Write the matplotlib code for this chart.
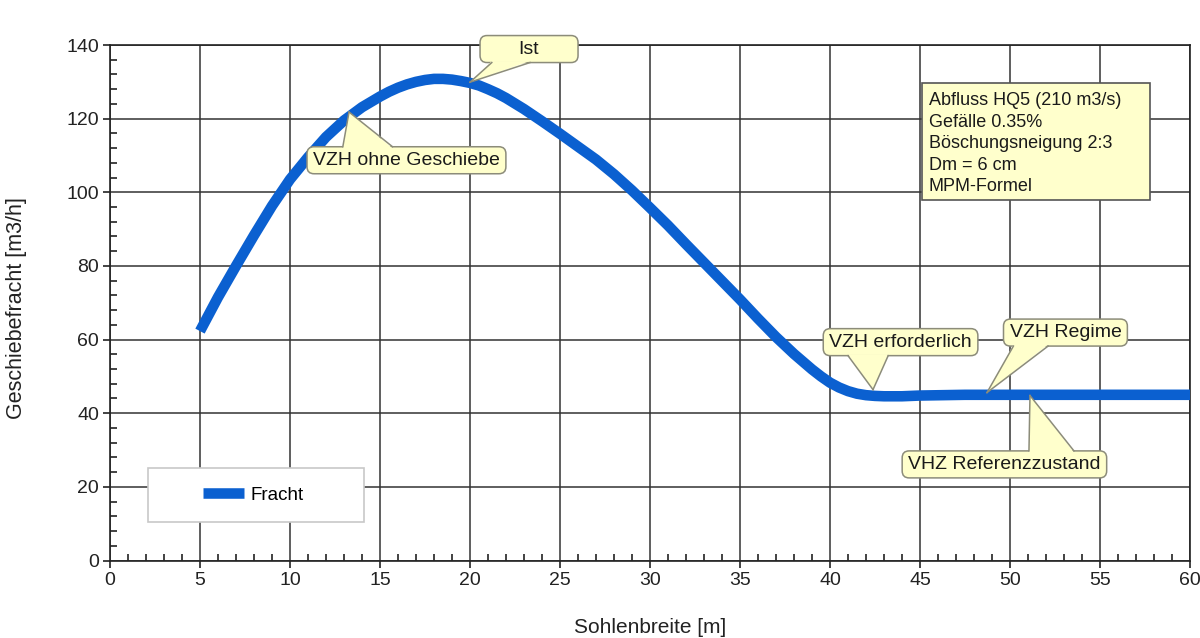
import matplotlib
matplotlib.use("Agg")
import matplotlib.pyplot as plt
from matplotlib.patches import Rectangle, FancyBboxPatch, Polygon
from matplotlib.lines import Line2D
from matplotlib.transforms import IdentityTransform
from matplotlib.ticker import MultipleLocator

plt.rcParams['font.family'] = ['Liberation Sans', 'DejaVu Sans']

# Sohlenbreite [m] and Geschiebefracht [m3/h]
breite = [5, 6, 7, 8, 9, 10, 11, 12, 13, 14, 15, 15.5, 16, 16.5, 17, 17.5, 18, 18.5, 19, 19.5, 20,
          20.5, 21, 21.5, 22, 23, 24, 25, 26, 27, 28, 29, 30, 31, 32, 33, 34, 35,
          36, 37, 38, 39, 39.5, 40, 40.5, 41, 41.5, 42, 42.5, 43, 44, 45, 47.5, 50, 52.5, 55, 57.5, 60]
fracht = [62.3, 71.5, 80.0, 88.3, 96.3, 103.5, 109.5, 115.0, 119.5, 123.1, 126.0, 127.3, 128.4, 129.3, 130.0, 130.5, 130.8, 130.8, 130.6, 130.2, 129.7,
          129.0, 128.0, 126.9, 125.6, 122.6, 119.3, 115.9, 112.4, 108.9, 104.9, 100.5, 95.8, 91.0, 85.9, 80.9, 75.9, 70.9,
          65.7, 60.7, 56.1, 51.9, 50.0, 48.3, 47.0, 46.0, 45.3, 44.9, 44.7, 44.6, 44.6, 44.8, 45.0, 45.0, 45.0, 45.0, 45.0, 45.0]

x_ticks = list(range(0, 61, 5))
y_ticks = list(range(0, 141, 20))

# Callout texts, the point on the curve they refer to, and the box centre
callout_texts = ["Ist", "VZH ohne Geschiebe", "VZH erforderlich", "VZH Regime", "VHZ Referenzzustand"]
callout_tips = [(20.0, 129.9), (13.28, 121.8), (42.39, 46.4), (48.72, 45.6), (51.11, 44.8)]
callout_boxes = [(23.28, 138.9), (16.47, 108.7), (43.92, 59.3), (53.08, 61.9), (49.69, 26.1)]
# where the pointer leaves the box (fraction of box width) and minimum box width (px)
pointer_base = [(0.12, 0.51), (0.18, 0.43), (0.16, 0.42), (0.08, 0.36), (0.62, 0.84)]
min_box_width = [98, 0, 0, 0, 0]

info_lines = ["Abfluss HQ5 (210 m3/s)", "Gefälle 0.35%", "Böschungsneigung 2:3",
              "Dm = 6 cm", "MPM-Formel"]

line_color = "#0b60d0"
note_fc = "#ffffcc"
note_ec = "#8c8c7a"

fig = plt.figure(figsize=(12, 6.38), dpi=100)
ax = fig.add_axes([110 / 1200, 1 - 560.5 / 638, 1080 / 1200, 515.5 / 638])

ax.set_xlim(0, 60)
ax.set_ylim(0, 140)
ax.set_xticks(x_ticks)
ax.set_yticks(y_ticks)
ax.xaxis.set_minor_locator(MultipleLocator(1))
ax.yaxis.set_minor_locator(MultipleLocator(4))
ax.tick_params(which='major', direction='out', length=5, width=1.2, labelsize=14,
               colors='#222222', pad=3)
ax.tick_params(which='minor', direction='in', length=5, width=1.2, color='#222222')
ax.grid(True, which='major', color='#333333', linewidth=1.1)
ax.set_axisbelow(True)
for s in ax.spines.values():
    s.set_color('#222222')
    s.set_linewidth(1.2)

ax.plot(breite, fracht, color=line_color, linewidth=7.6, solid_capstyle='butt',
        solid_joinstyle='round', zorder=3, label="Fracht")

ax.set_xlabel("Sohlenbreite [m]", fontsize=15, color='#222222')
ax.xaxis.set_label_coords(0.5, -0.111)
ax.set_ylabel("Geschiebefracht [m3/h]", fontsize=15.5, color='#222222')
ax.yaxis.set_label_coords(-0.077, 0.49)

# legend frame with white fill
ax.add_patch(Rectangle((0.035, 0.0747), 0.2, 0.1045, transform=ax.transAxes,
                       facecolor='white', edgecolor='#c8c8c8', linewidth=1.2, zorder=4))
leg = ax.legend(loc='center', bbox_to_anchor=(0.133, 0.127), frameon=False,
                fontsize=13.5, handlelength=2.2, handletextpad=0.35)
leg.set_zorder(5)
for h in leg.get_lines():
    h.set_linewidth(7.6)

# callout texts first, so their extents can be measured
texts = []
for text, box in zip(callout_texts, callout_boxes):
    texts.append(ax.text(box[0], box[1], text, ha='center', va='center', fontsize=14,
                         color='#1a1a1a', zorder=9))

fig.canvas.draw()
renderer = fig.canvas.get_renderer()
ident = IdentityTransform()
pad_x, pad_y = 6, 6
for t, tip, (f0, f1), wmin in zip(texts, callout_tips, pointer_base, min_box_width):
    bb = t.get_window_extent(renderer)
    w = max(bb.width + 2 * pad_x, wmin)
    cx = 0.5 * (bb.x0 + bb.x1)
    x0 = cx - w / 2
    y0, y1 = bb.y0 - pad_y + 1, bb.y1 + pad_y - 1
    ax.add_patch(FancyBboxPatch((x0, y0), w, y1 - y0,
                                boxstyle='round,pad=0,rounding_size=7',
                                transform=ident, facecolor=note_fc, edgecolor=note_ec,
                                linewidth=1.1, zorder=6, clip_on=False))
    tx, ty = ax.transData.transform(tip)
    edge = y0 if ty < y0 else y1
    inset = 1.5 if ty < y0 else -1.5
    bl, br = x0 + f0 * w, x0 + f1 * w
    ax.add_patch(Polygon([(bl, edge + inset), (br, edge + inset), (tx, ty)], closed=True,
                         transform=ident, facecolor=note_fc, edgecolor='none',
                         zorder=7, clip_on=False))
    for bx in (bl, br):
        ax.add_line(Line2D([bx, tx], [edge, ty], transform=ident, color=note_ec,
                           linewidth=1.1, zorder=7.5, clip_on=False))

# parameter box
ax.add_patch(FancyBboxPatch((0.752, 0.699), 0.211, 0.227, boxstyle='square,pad=0',
                            transform=ax.transAxes, facecolor=note_fc,
                            edgecolor='#555555', linewidth=1.2, zorder=6))
for i, line in enumerate(info_lines):
    ax.text(0.758, 0.892 - i * 0.0418, line, transform=ax.transAxes, fontsize=13,
            color='#1a1a1a', ha='left', va='center', zorder=7)

fig.savefig("out.png", dpi=100)
